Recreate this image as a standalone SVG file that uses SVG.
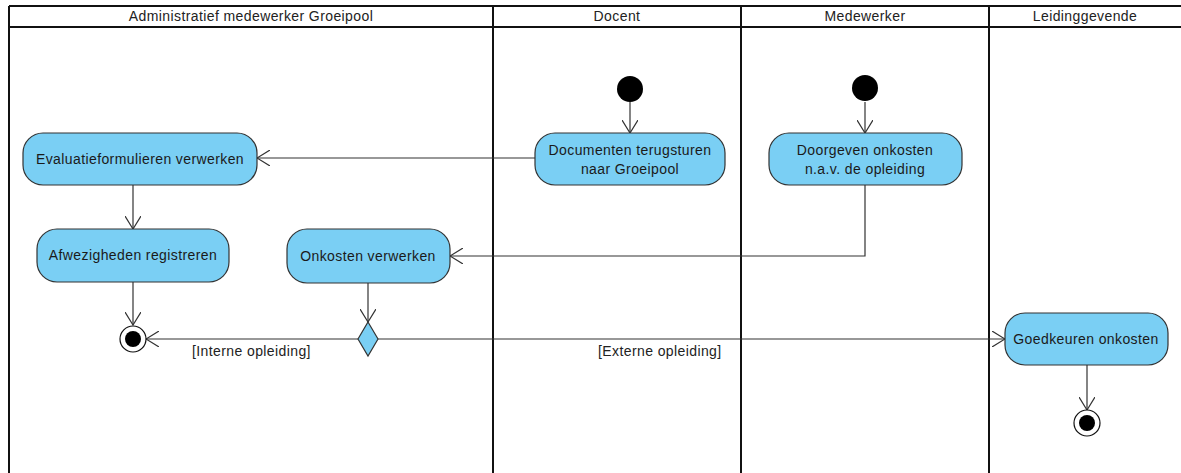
<svg xmlns="http://www.w3.org/2000/svg" width="1181" height="473" viewBox="0 0 1181 473">
<style>
.lane{stroke:#111;stroke-width:2;fill:none}
.hdr{font-family:"Liberation Sans",Arial,sans-serif;font-size:14px;letter-spacing:0.4px;fill:#222;text-anchor:middle}
.act{fill:#7acff4;stroke:#333;stroke-width:1.2}
.lbl{font-family:"Liberation Sans",Arial,sans-serif;font-size:14px;letter-spacing:0.4px;fill:#1a1a1a;text-anchor:middle}
.edge{stroke:#333;stroke-width:1.2;fill:none;marker-end:url(#open)}
.guard{font-family:"Liberation Sans",Arial,sans-serif;font-size:14px;letter-spacing:0.4px;fill:#222}
</style>
<defs>
<marker id="open" viewBox="0 0 14 16" refX="13" refY="8" markerWidth="14" markerHeight="16" markerUnits="userSpaceOnUse" orient="auto">
<path d="M0,0 L13,8 L0,16" fill="none" stroke="#333" stroke-width="1.2"/>
</marker>
</defs>
<rect width="1181" height="473" fill="#fff"/>
<g id="swimlanes">
<line class="lane" x1="9" y1="6" x2="1181" y2="6"/>
<line class="lane" x1="9" y1="27" x2="1181" y2="27"/>
<line class="lane" x1="9" y1="6" x2="9" y2="473"/>
<line class="lane" x1="493" y1="6" x2="493" y2="473"/>
<line class="lane" x1="741" y1="6" x2="741" y2="473"/>
<line class="lane" x1="989" y1="6" x2="989" y2="473"/>
<text class="hdr" x="251" y="21">Administratief medewerker Groeipool</text>
<text class="hdr" x="617" y="21">Docent</text>
<text class="hdr" x="865" y="21">Medewerker</text>
<text class="hdr" x="1085" y="21">Leidinggevende</text>
</g>
<g id="connectors">
<line class="edge" x1="630" y1="102" x2="630" y2="133"/>
<line class="edge" x1="865" y1="102" x2="865" y2="133"/>
<line class="edge" x1="535" y1="158" x2="257" y2="158"/>
<line class="edge" x1="133" y1="185" x2="133" y2="229"/>
<polyline class="edge" points="865,185 865,256 450,256"/>
<line class="edge" x1="133" y1="282" x2="133" y2="325"/>
<line class="edge" x1="368" y1="283" x2="368" y2="322"/>
<line class="edge" x1="358" y1="339" x2="146" y2="339"/>
<line class="edge" x1="378" y1="339" x2="1005" y2="339"/>
<line class="edge" x1="1087" y1="365" x2="1087" y2="410"/>
<text class="guard" x="192" y="356">[Interne opleiding]</text>
<text class="guard" x="598" y="356">[Externe opleiding]</text>
</g>
<g id="init-docent"><circle cx="630" cy="89" r="13" fill="#000"/></g>
<g id="init-medewerker"><circle cx="865" cy="88" r="13" fill="#000"/></g>
<g id="documenten">
<rect class="act" x="535" y="133" width="190" height="52" rx="20"/>
<text class="lbl" x="630" y="155">Documenten terugsturen</text>
<text class="lbl" x="630" y="174">naar Groeipool</text>
</g>
<g id="doorgeven">
<rect class="act" x="769" y="133" width="193" height="52" rx="20"/>
<text class="lbl" x="865" y="155">Doorgeven onkosten</text>
<text class="lbl" x="865" y="174">n.a.v. de opleiding</text>
</g>
<g id="evaluatie">
<rect class="act" x="23" y="133" width="234" height="52" rx="20"/>
<text class="lbl" x="140" y="164">Evaluatieformulieren verwerken</text>
</g>
<g id="afwezigheden">
<rect class="act" x="37" y="229" width="192" height="53" rx="20"/>
<text class="lbl" x="133" y="260">Afwezigheden registreren</text>
</g>
<g id="onkosten">
<rect class="act" x="287" y="229" width="163" height="54" rx="20"/>
<text class="lbl" x="368" y="261">Onkosten verwerken</text>
</g>
<g id="decision">
<polygon class="act" points="368,322 378,339 368,356 358,339"/>
</g>
<g id="goedkeuren">
<rect class="act" x="1005" y="313" width="163" height="52" rx="20"/>
<text class="lbl" x="1086" y="344">Goedkeuren onkosten</text>
</g>
<g id="final-admin">
<circle cx="133" cy="339" r="13" fill="#fff" stroke="#111" stroke-width="1.2"/>
<circle cx="133" cy="339" r="8" fill="#000"/>
</g>
<g id="final-leiding">
<circle cx="1087" cy="423" r="13" fill="#fff" stroke="#111" stroke-width="1.2"/>
<circle cx="1087" cy="423" r="8" fill="#000"/>
</g>
</svg>
